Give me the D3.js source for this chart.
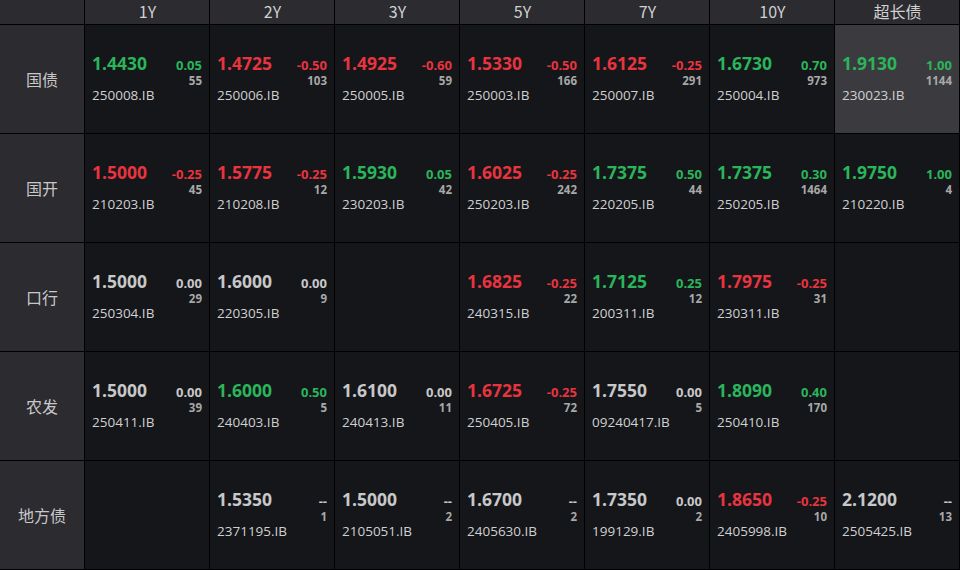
<!DOCTYPE html><html><head><meta charset="utf-8"><script src="https://cdn.jsdelivr.net/npm/d3@7"></script>
<style>body{margin:0;background:#000}</style></head><body><svg id="c" width="960" height="570"></svg>
<script>
const columns=["1Y","2Y","3Y","5Y","7Y","10Y","超长债"];
const rows=["国债","国开","口行","农发","地方债"];
const prices=[
["1.4430","1.4725","1.4925","1.5330","1.6125","1.6730","1.9130"],
["1.5000","1.5775","1.5930","1.6025","1.7375","1.7375","1.9750"],
["1.5000","1.6000",null,"1.6825","1.7125","1.7975",null],
["1.5000","1.6000","1.6100","1.6725","1.7550","1.8090",null],
[null,"1.5350","1.5000","1.6700","1.7350","1.8650","2.1200"]];
const changes=[
["0.05","-0.50","-0.60","-0.50","-0.25","0.70","1.00"],
["-0.25","-0.25","0.05","-0.25","0.50","0.30","1.00"],
["0.00","0.00",null,"-0.25","0.25","-0.25",null],
["0.00","0.50","0.00","-0.25","0.00","0.40",null],
[null,"--","--","--","0.00","-0.25","--"]];
const counts=[
[55,103,59,166,291,973,1144],
[45,12,42,242,44,1464,4],
[29,9,null,22,12,31,null],
[39,5,11,72,5,170,null],
[null,1,2,2,2,10,13]];
const codes=[
["250008.IB","250006.IB","250005.IB","250003.IB","250007.IB","250004.IB","230023.IB"],
["210203.IB","210208.IB","230203.IB","250203.IB","220205.IB","250205.IB","210220.IB"],
["250304.IB","220305.IB",null,"240315.IB","200311.IB","230311.IB",null],
["250411.IB","240403.IB","240413.IB","250405.IB","09240417.IB","250410.IB",null],
[null,"2371195.IB","2105051.IB","2405630.IB","199129.IB","2405998.IB","2505425.IB"]];
const highlighted=[[0,6]];

const svg=d3.select("#c"),F="'Noto Sans CJK SC','Open Sans',sans-serif";
const x=d3.scaleBand().domain(columns).range([85,960]);
const y=d3.scaleBand().domain(rows).range([25,570]);
const g=svg.append("g");
const colorOf=c=>{if(c==null||c==="--")return "#c8c8c8";const v=+c;return v>0?"#2bb55a":v<0?"#e8343e":"#c8c8c8";};
g.append("rect").attr("x",0).attr("y",0).attr("width",84).attr("height",24).attr("fill","#2b2b30");
columns.forEach(c=>{
  g.append("rect").attr("x",x(c)).attr("y",0).attr("width",x.bandwidth()-1).attr("height",24).attr("fill","#2b2b30");
  g.append("text").attr("x",x(c)+x.bandwidth()/2).attr("y",18).attr("text-anchor","middle").attr("fill","#d0d0d0").attr("font-family",F).attr("font-size",16).text(c);
});
rows.forEach((r,i)=>{
  g.append("rect").attr("x",0).attr("y",y(r)).attr("width",84).attr("height",y.bandwidth()-1).attr("fill","#2b2b30");
  g.append("text").attr("x",42).attr("y",y(r)+y.bandwidth()/2+6).attr("text-anchor","middle").attr("fill","#c8c8c8").attr("font-family",F).attr("font-size",16).text(r);
  columns.forEach((c,j)=>{
    const hl=highlighted.some(h=>h[0]===i&&h[1]===j);
    const X=x(c),Y=y(r);
    g.append("rect").attr("x",X).attr("y",Y).attr("width",x.bandwidth()-1).attr("height",y.bandwidth()-1).attr("fill",hl?"#3b3b3f":"#14161a");
    if(prices[i][j]==null)return;
    const col=colorOf(changes[i][j]);
    g.append("text").attr("x",X+7).attr("y",Y+45).attr("fill",col).attr("font-family","'Open Sans',sans-serif").attr("font-weight","bold").attr("font-size",17.5).text(prices[i][j]);
    g.append("text").attr("x",X+117).attr("y",Y+45).attr("text-anchor","end").attr("fill",col).attr("font-family","'Open Sans',sans-serif").attr("font-weight","bold").attr("font-size",13).text(changes[i][j]);
    g.append("text").attr("x",X+117).attr("y",Y+60).attr("text-anchor","end").attr("fill","#a8a8a8").attr("font-family","'Open Sans',sans-serif").attr("font-weight","bold").attr("font-size",11.5).text(counts[i][j]);
    g.append("text").attr("x",X+7).attr("y",Y+75).attr("fill","#d0d0d0").attr("font-family","'Open Sans',sans-serif").attr("font-size",13.5).text(codes[i][j]);
  });
});
</script></body></html>
